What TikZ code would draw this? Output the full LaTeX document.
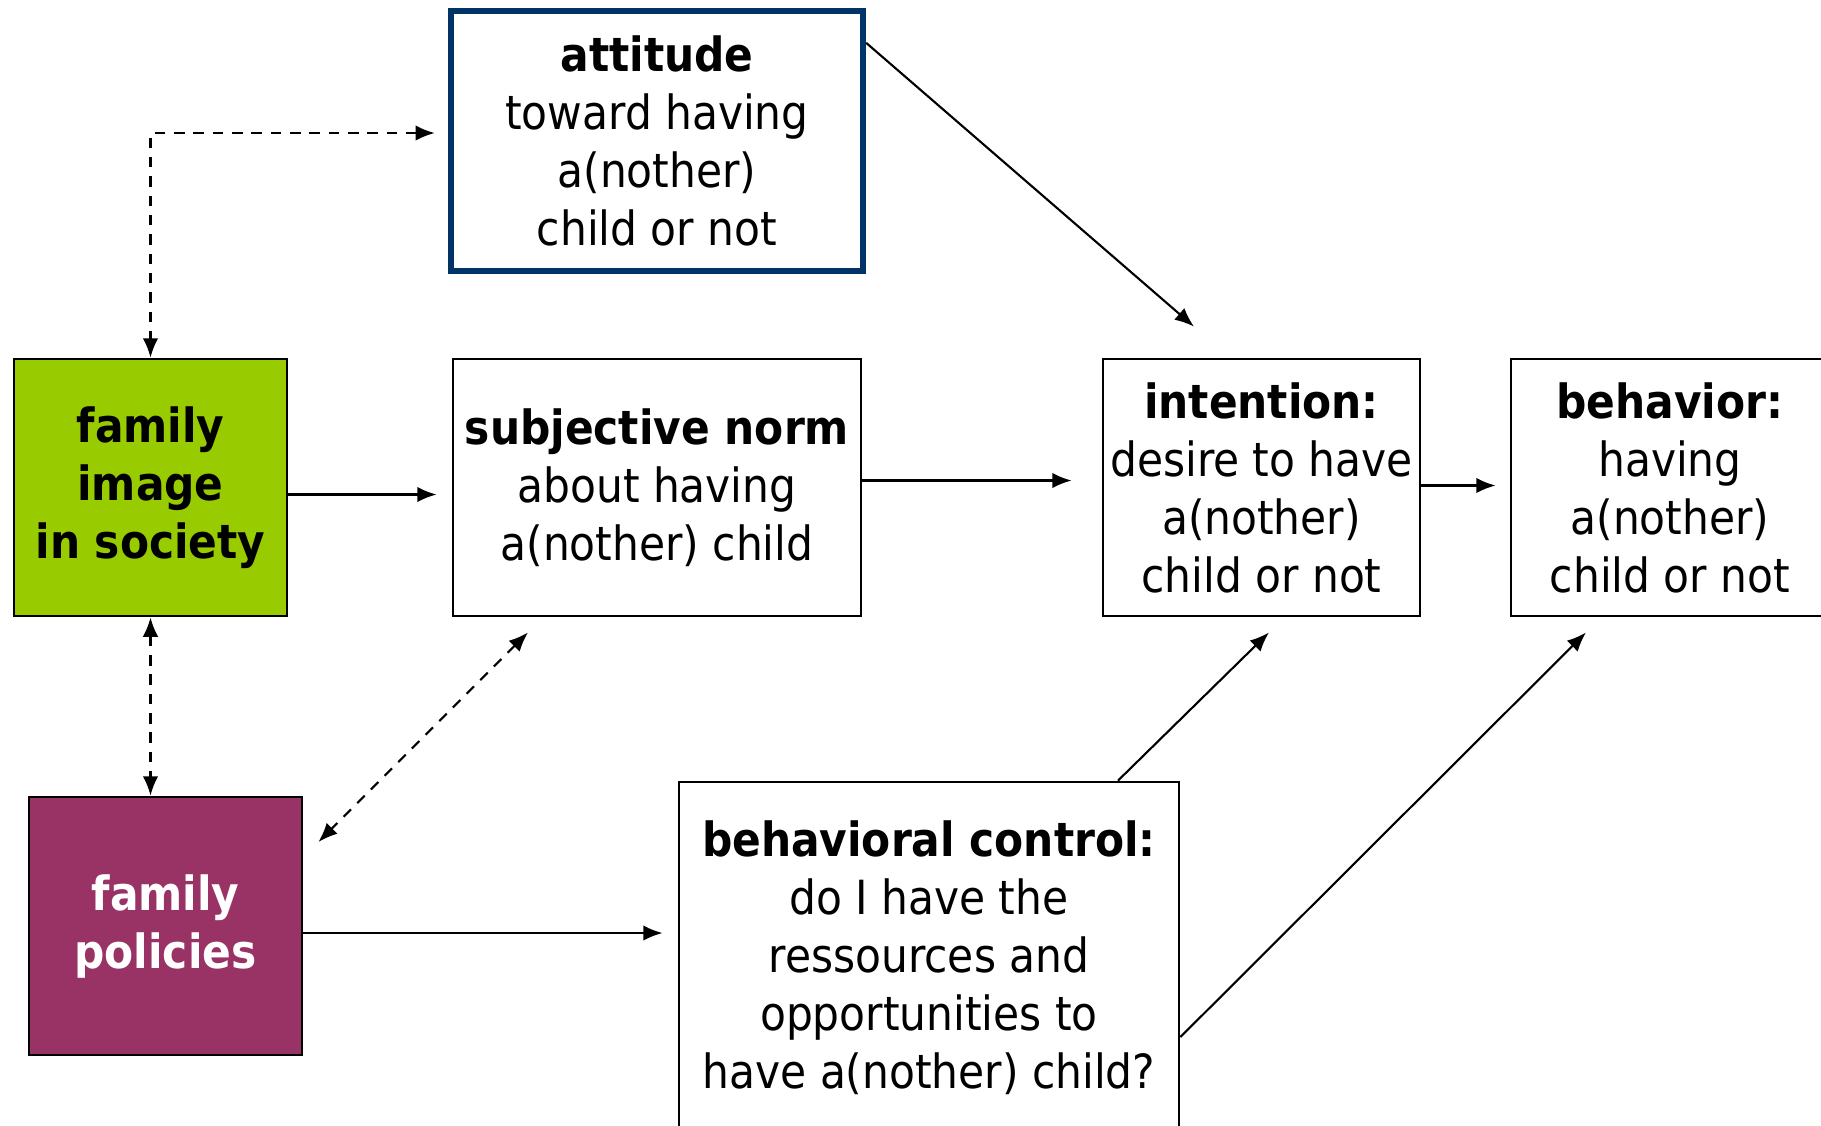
\documentclass[tikz,border=0pt]{standalone}
\usepackage{fontspec}
\setmainfont{DejaVu Sans Condensed}
\usetikzlibrary{positioning, calc, arrows.meta}
\definecolor{navy}{RGB}{0,51,102}
\definecolor{lime}{RGB}{153,204,0}
\definecolor{plum}{RGB}{153,51,102}

\begin{document}
\begin{tikzpicture}[
  box/.style={draw, line width=0.8pt, align=center, inner sep=0pt, minimum height=2.57cm, font=\fontsize{13.4}{16.5}\selectfont},
  arrow/.style={->, >={Latex[length=5.5pt,width=4.4pt]}, line width=0.6pt},
  dasharrow/.style={arrow, <->, dashed, dash pattern=on 3pt off 2.5pt}]
  \useasboundingbox (0,0) rectangle (18.21,-11.25);

  % boxes
  \node[box, line width=1.8pt, draw=navy, minimum width=4.12cm, minimum height=2.6cm] (attitude) at (6.57,-1.41)
    {\textbf{attitude}\\toward having\\a(nother)\\child or not};
  \node[box, fill=lime, minimum width=2.73cm] (famimage) at (1.505,-4.875)
    {\textbf{family}\\\textbf{image}\\\textbf{in society}};
  \node[box, minimum width=4.08cm] (subjnorm) at (6.57,-4.875)
    {\textbf{subjective norm}\\about having\\a(nother) child};
  \node[box, minimum width=3.17cm] (intention) at (12.615,-4.875)
    {\textbf{intention:}\\desire to have\\a(nother)\\child or not};
  \node[box, minimum width=3.18cm] (behavior) at (16.7,-4.875)
    {\textbf{behavior:}\\having\\a(nother)\\child or not};
  \node[box, fill=plum, text=white, minimum width=2.73cm, minimum height=2.58cm] (fampolicy) at (1.655,-9.26)
    {\textbf{family}\\\textbf{policies}};
  \node[box, minimum width=5cm, minimum height=3.52cm] (control) at (9.29,-9.58)
    {\textbf{behavioral control:}\\do I have the\\ressources and\\opportunities to\\have a(nother) child?};

  % dashed links
  \draw[dasharrow, shorten <=0.13cm] ([yshift=0.08cm]attitude.west) -| (famimage.north);
  \draw[dasharrow] (famimage.south) -- (fampolicy.north -| famimage.south);
  \draw[dasharrow] ($(subjnorm.south)+(-1.29,-0.15)$) -- ($(fampolicy.east)+(0.15,0.84)$);

  % solid links
  \draw[arrow, shorten >=0.15cm] ([yshift=-0.07cm]famimage.east) -- ([yshift=-0.07cm]famimage.east -| subjnorm.west);
  \draw[arrow, shorten >=0.3cm] ([yshift=0.07cm]subjnorm.east) -- ([yshift=0.07cm]subjnorm.east -| intention.west);
  \draw[arrow, shorten >=0.14cm] ([yshift=0.02cm]intention.east) -- ([yshift=0.02cm]intention.east -| behavior.west);
  \draw[arrow] ([yshift=-0.35cm]attitude.north east) -- ($(intention.north)+(-0.675,0.31)$);
  \draw[arrow, shorten >=0.15cm] ([yshift=-0.07cm]fampolicy.east) -- ([yshift=-0.07cm]fampolicy.east -| control.west);
  \draw[arrow] ([xshift=1.89cm]control.north) -- ($(intention.south)+(0.075,-0.15)$);
  \draw[arrow] ([yshift=-0.79cm]control.east) -- ($(behavior.south)+(-0.84,-0.15)$);
\end{tikzpicture}
\end{document}
